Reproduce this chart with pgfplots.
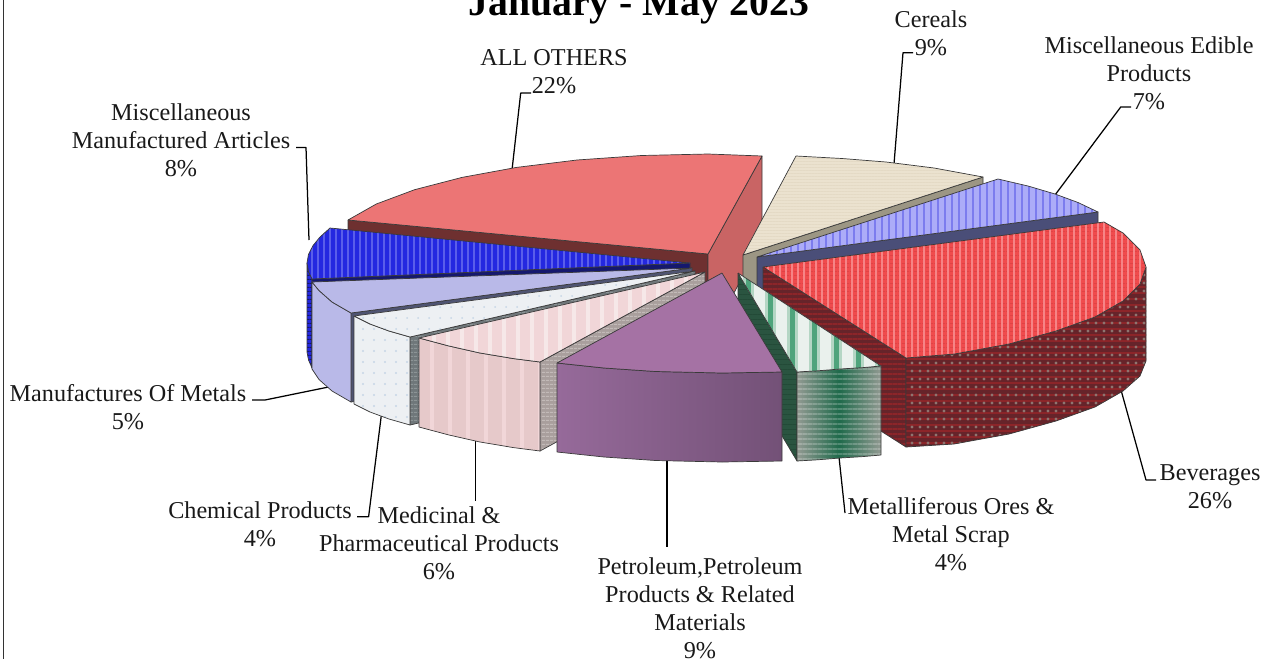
\documentclass[border=0pt]{standalone}
\usepackage{pgfplots}
\usepackage{pgfplotstable}
\usepackage{fontspec}
\usetikzlibrary{patterns.meta}
\pgfplotsset{compat=1.18}
\setmainfont{Liberation Serif}
\definecolor{edgec}{HTML}{3A3A3A}
\definecolor{othL}{HTML}{6E3030}
\definecolor{othR}{HTML}{C96464}
\definecolor{othT}{HTML}{EC7575}
\definecolor{cerS}{HTML}{9C9684}
\definecolor{cerT}{HTML}{EBE2CF}
\definecolor{cerP}{HTML}{E4DAC5}
\definecolor{ediS}{HTML}{4A4E78}
\definecolor{ediT}{HTML}{ACACF8}
\definecolor{ediP}{HTML}{7C7CEE}
\definecolor{bluT}{HTML}{2428E0}
\definecolor{bluP}{HTML}{5A5EEA}
\definecolor{bluD}{HTML}{15186E}
\definecolor{lavT}{HTML}{B9B9E8}
\definecolor{lavS}{HTML}{4F5472}
\definecolor{cheT}{HTML}{EDF0F3}
\definecolor{cheP}{HTML}{C6D6E6}
\definecolor{cheS}{HTML}{6F777A}
\definecolor{cheQ}{HTML}{8C9496}
\definecolor{medT}{HTML}{F1D6D8}
\definecolor{medF}{HTML}{E6C9CA}
\definecolor{medP}{HTML}{F6E8E8}
\definecolor{medS}{HTML}{A99F9D}
\definecolor{medQ}{HTML}{C2BAB8}
\definecolor{bevT}{HTML}{F04B4D}
\definecolor{bevP}{HTML}{F68486}
\definecolor{bevD}{HTML}{D84042}
\definecolor{bevF}{HTML}{66242A}
\definecolor{bevQ}{HTML}{8C2529}
\definecolor{bevG}{HTML}{8F7570}
\definecolor{metG}{HTML}{1F6A4B}
\definecolor{metS}{HTML}{929A92}
\definecolor{metT}{HTML}{EAF1ED}
\definecolor{metP}{HTML}{B4D6C4}
\definecolor{metR}{HTML}{4FA47C}
\definecolor{metL}{HTML}{2A5440}
\definecolor{metQ}{HTML}{234A37}
\definecolor{purT}{HTML}{A572A4}
\definecolor{purA}{HTML}{966A9A}
\definecolor{purB}{HTML}{735177}
\pgfplotstableread{
x y
348 220
708 254
708 342
348 308
348 220
}\tOthL
\pgfplotstableread{
x y
708 254
762 156
762 240
708 342
708 254
}\tOthR
\pgfplotstableread{
x y
708 254
762 156
708 154
641.5 155.5
577 160
516.5 167.4
462 177.4
414.6 189.7
376.3 204
348 220
708 254
}\tOthT
\pgfplotstableread{
x y
743 255
983 177
983 266
743 344
743 255
}\tCerS
\pgfplotstableread{
x y
743 255
796 156
842 158.5
886 162
934 168
983 177
743 255
}\tCerT
\pgfplotstableread{
x y
757 257
1098 212
1098 301
757 346
757 257
}\tEdiS
\pgfplotstableread{
x y
757 257
998 179
1028 186
1055 194
1078 202.5
1098 212
757 257
}\tEdiT
\pgfplotstableread{
x y
307 263
308.5 271.7
312 279
312 368
308.5 360
307 352
307 263
}\tBluF
\pgfplotstableread{
x y
312 279
690 263
690 352
312 368
312 279
}\tBluS
\pgfplotstableread{
x y
690 263
330 228
320 237
313 245.6
308.5 254.3
307 263
308.5 271.7
312 279
690 263
}\tBluT
\pgfplotstableread{
x y
351 313
692 268
692 357
351 402
351 313
}\tLavS
\pgfplotstableread{
x y
312 282
319 290.5
332 302
351 313
351 402
332 391
319 379.5
312 369
312 282
}\tLavF
\pgfplotstableread{
x y
692 268
312 282
319 290.5
332 302
351 313
692 268
}\tLavT
\pgfplotstableread{
x y
410 337
695 271
695 359
410 425
410 337
}\tCheS
\pgfplotstableread{
x y
354 316
370 324
389 331
410 337
410 425
389 419
370 412
354 404
354 316
}\tCheF
\pgfplotstableread{
x y
695 271
354 316
370 324
389 331
410 337
695 271
}\tCheT
\pgfplotstableread{
x y
540 362
705 272
705 361
540 451
540 362
}\tMedS
\pgfplotstableread{
x y
419 338
449 346
480 353
513.5 358.6
540 362
540 451
513.5 447.6
480 442
449 435
419 427
419 338
}\tMedF
\pgfplotstableread{
x y
705 272
419 338
449 346
480 353
513.5 358.6
540 362
705 272
}\tMedT
\pgfplotstableread{
x y
763 267
906 358
906 447
763 356
763 267
}\tBevL
\pgfplotstableread{
x y
1146 267
1140 284
1123 301
1095 317
1056 331
1009 344
954.5 354
906 358
906 447
954 444
1009 434
1056 421
1095 407
1123 391
1140 376
1146 361
1146 267
}\tBevF
\pgfplotstableread{
x y
763 267
906 358
954.5 354
1009 344
1056 331
1095 317
1123 301
1140 284
1146 267
1140 250
1123 233
1104 222
763 267
}\tBevT
\pgfplotstableread{
x y
738 273
797 372
797 461
738 362
738 273
}\tMetL
\pgfplotstableread{
x y
797 372
817.6 370.8
840 369
862.7 367.6
881 366
881 455
862.7 456.6
840 458
817.6 459.8
797 461
797 372
}\tMetF
\pgfplotstableread{
x y
738 273
797 372
817.6 370.8
840 369
862.7 367.6
881 366
738 273
}\tMetT
\pgfplotstableread{
x y
557 363
604 368
655.5 371.5
722 373
782 372
782 461
722 462
655.5 460.5
604 457
557 452
557 363
}\tPurF
\pgfplotstableread{
x y
722 273
557 363
604 368
655.5 371.5
722 373
782 372
722 273
}\tPurT
\newcommand{\face}[2]{\addplot[fill=#2,draw=edgec,line width=.7pt] table {#1};}
\newcommand{\tface}[4]{%
  \addplot[fill=#2,draw=none] table {#1};
  \addplot[draw=none,pattern={#3},pattern color=#4] table {#1};
  \addplot[draw=edgec,line width=.7pt] table {#1};}
\newcommand{\ttface}[6]{%
  \addplot[fill=#2,draw=none] table {#1};
  \addplot[draw=none,pattern={#3},pattern color=#4] table {#1};
  \addplot[draw=none,pattern={#5},pattern color=#6] table {#1};
  \addplot[draw=edgec,line width=.7pt] table {#1};}
\newcommand{\leader}[1]{\addplot[black,line width=1.25pt] coordinates {#1};}
\begin{document}
\begin{tikzpicture}
\path[use as bounding box,clip] (0,0) rectangle (1268pt,659pt);
\begin{axis}[
  at={(0pt,0pt)},anchor=south west,
  scale only axis,width=1268pt,height=659pt,
  xmin=0,xmax=1268,ymin=0,ymax=659,y dir=reverse,
  hide axis,clip=false,no markers,
  every axis plot/.append style={line join=round,solid},
]
% frame line at left
\addplot[color=black!80,line width=1pt] coordinates {(3,0) (3,659)};
% leaders behind the pie
\leader{(512,170) (520.7,93) (531,93)}
\leader{(894,164) (903,52.7) (913,52.7)}
\leader{(1055,195) (1120.7,107) (1131,107)}
\leader{(309,240) (306,147.5) (296,147.5)}
\leader{(1121,390) (1146,480) (1156,480)}
\leader{(839,457) (845,513)}
\leader{(667,460) (667,546.7)}
\leader{(475.5,438) (475.5,500.7)}
\leader{(381.6,413) (368.6,516.7) (357,516.7)}
\leader{(328.6,387) (265,400) (252,400)}
% ALL OTHERS
\face{\tOthL}{othL}
\face{\tOthR}{othR}
\face{\tOthT}{othT}
% Cereals
\face{\tCerS}{cerS}
\tface{\tCerT}{cerT}{Lines[angle=0,distance=3pt,line width=.6pt]}{cerP}
% Miscellaneous Edible Products
\face{\tEdiS}{ediS}
\tface{\tEdiT}{ediT}{Lines[angle=90,distance=7pt,line width=1.8pt]}{ediP}
% Misc Manufactured Articles
\tface{\tBluF}{bluT}{Lines[angle=0,distance=4pt,line width=1pt]}{bluD}
\face{\tBluS}{bluD}
\tface{\tBluT}{bluT}{Lines[angle=90,distance=6pt,line width=2.5pt]}{bluP}
% Manufactures Of Metals
\face{\tLavS}{lavS}
\face{\tLavF}{lavT}
\face{\tLavT}{lavT}
% Chemical
\tface{\tCheS}{cheS}{Lines[angle=0,distance=4pt,line width=1pt]}{cheQ}
\tface{\tCheF}{cheT}{Dots[radius=1.2pt,distance=11pt]}{cheP}
\tface{\tCheT}{cheT}{Dots[radius=1pt,distance=11pt]}{cheP}
% Medicinal
\tface{\tMedS}{medS}{Lines[angle=0,distance=4pt,line width=1pt]}{medQ}
\tface{\tMedF}{medF}{Lines[angle=90,distance=18pt,line width=4pt]}{medT}
\tface{\tMedT}{medT}{Lines[angle=90,distance=14pt,line width=4pt]}{medP}
% Beverages
\tface{\tBevL}{bevF}{Lines[angle=0,distance=5pt,line width=1.3pt]}{bevQ}
\ttface{\tBevF}{bevF}{Lines[angle=0,distance=6pt,line width=1.1pt]}{bevQ}{Dots[radius=1.6pt,distance=8pt]}{bevG}
\ttface{\tBevT}{bevT}{Lines[angle=0,distance=4pt,line width=.7pt]}{bevD}{Lines[angle=90,distance=6pt,line width=1.2pt]}{bevP}
% Metalliferous
\tface{\tMetL}{metL}{Lines[angle=0,distance=5pt,line width=.8pt]}{metQ}
\addplot[left color=metS,right color=metS,middle color=metG,draw=none] table {\tMetF};
\addplot[draw=none,pattern={Lines[angle=0,distance=5pt,line width=1.5pt]},pattern color=white,opacity=.22] table {\tMetF};
\addplot[draw=edgec,line width=.7pt] table {\tMetF};
\ttface{\tMetT}{metT}{Lines[angle=90,distance=22pt,line width=11pt]}{metP}{Lines[angle=90,distance=22pt,line width=5pt]}{metR}
% Petroleum
\addplot[left color=purA,right color=purB,draw=edgec,line width=.7pt] table {\tPurF};
\face{\tPurT}{purT}
% texts
\tikzset{lab/.style={font=\fontsize{24.2}{28}\selectfont,align=center,inner sep=0pt,text=black!90}}
\node[anchor=base,inner sep=0pt,font=\fontsize{39.7}{42}\selectfont\bfseries] at (axis cs:639,15) {January - May 2023};
\node[lab] at (axis cs:554,72) {ALL OTHERS\\22\%};
\node[lab] at (axis cs:931,33) {Cereals\\9\%};
\node[lab] at (axis cs:1149,73) {Miscellaneous Edible\\Products\\7\%};
\node[lab] at (axis cs:181,140) {Miscellaneous\\Manufactured Articles\\8\%};
\node[lab] at (axis cs:1210,487) {Beverages\\26\%};
\node[lab] at (axis cs:951,534) {Metalliferous Ores \&\\Metal Scrap\\4\%};
\node[lab] at (axis cs:700,608) {Petroleum,Petroleum\\Products \& Related\\Materials\\9\%};
\node[lab] at (axis cs:439,543) {Medicinal \&\\Pharmaceutical Products\\6\%};
\node[lab] at (axis cs:260,524) {Chemical Products\\4\%};
\node[lab] at (axis cs:128,407) {Manufactures Of Metals\\5\%};
\end{axis}
\end{tikzpicture}
\end{document}
